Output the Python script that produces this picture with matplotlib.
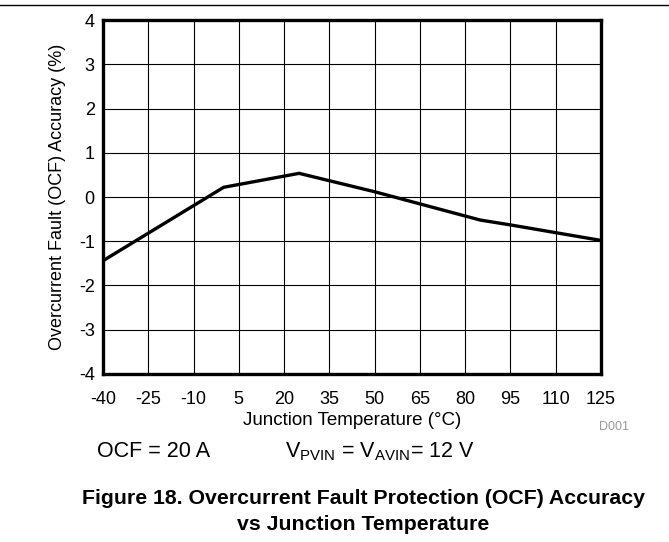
import numpy as np
import matplotlib.pyplot as plt
from matplotlib.lines import Line2D

plt.rcParams['font.family'] = ['Liberation Sans', 'DejaVu Sans']
plt.rcParams['axes.unicode_minus'] = False

# junction temperature (C) vs OCF accuracy (%)
temp = [-40, 0, 25, 50, 85, 95, 125]
accuracy = [-1.44, 0.22, 0.535, 0.12, -0.52, -0.63, -0.98]

xticks = [-40, -25, -10, 5, 20, 35, 50, 65, 80, 95, 110, 125]
yticks = [-4, -3, -2, -1, 0, 1, 2, 3, 4]

fig = plt.figure(figsize=(6.69, 5.42), dpi=100)
ax = fig.add_axes([0.154, 0.310, 0.744, 0.653])

ax.plot(temp, accuracy, color='black', lw=2.4, solid_joinstyle='miter')

ax.set_xlim(-40, 125)
ax.set_ylim(-4, 4)
ax.set_xticks(xticks)
ax.set_yticks(yticks)
ax.tick_params(axis='x', length=0, labelsize=13, pad=12)
ax.tick_params(axis='y', length=0, labelsize=13, pad=6)
ax.grid(True, color='black', lw=0.8)
for s in ax.spines.values():
    s.set_linewidth(2.4)

ax.set_xlabel('Junction Temperature (°C)', fontsize=13.5, labelpad=3)
ax.set_ylabel('Overcurrent Fault (OCF) Accuracy (%)', fontsize=13, labelpad=9)

fig.add_artist(Line2D([0, 1], [1 - 5 / 542, 1 - 5 / 542], color='black', lw=1))
fig.text(614 / 669, 1 - 427 / 542, 'D001', fontsize=9, color='#999999', ha='center', va='center')
fig.text(97 / 669, 1 - 457 / 542, 'OCF = 20 A', fontsize=15.5, va='baseline')
fig.text(285 / 669, 1 - 457 / 542, r'V$_{\mathregular{PVIN}}$ = V$_{\mathregular{AVIN}}$= 12 V',
         fontsize=15.5, va='baseline')
fig.text(363 / 669, 1 - 504 / 542, 'Figure 18. Overcurrent Fault Protection (OCF) Accuracy',
         fontsize=15.3, fontweight='bold', ha='center', va='baseline')
fig.text(363 / 669, 1 - 530 / 542, 'vs Junction Temperature',
         fontsize=15.3, fontweight='bold', ha='center', va='baseline')

fig.savefig('out.png', dpi=100)
